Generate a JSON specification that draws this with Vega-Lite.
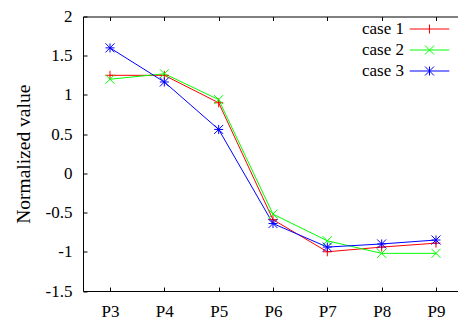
{
  "$schema": "https://vega.github.io/schema/vega-lite/v6.json",
  "width": 375,
  "height": 274.5,
  "autosize": "none",
  "padding": {"left": 83, "top": 16.5, "right": 0, "bottom": 29},
  "background": "white",
  "config": {
    "font": "Liberation Serif",
    "view": {"stroke": null},
    "axis": {
      "domainColor": "black",
      "tickColor": "black",
      "labelColor": "black",
      "titleColor": "black",
      "labelFont": "Liberation Serif",
      "titleFont": "Liberation Serif",
      "labelFontSize": 17,
      "titleFontSize": 19.5,
      "titleFontWeight": "normal",
      "grid": false,
      "tickSize": -4,
      "domainWidth": 1,
      "tickWidth": 1
    },
    "legend": {"labelFont": "Liberation Serif"}
  },
  "data": {
    "values": [
      {"pos": "P3", "case": "case 1", "value": 1.25},
      {"pos": "P4", "case": "case 1", "value": 1.25},
      {"pos": "P5", "case": "case 1", "value": 0.9},
      {"pos": "P6", "case": "case 1", "value": -0.59},
      {"pos": "P7", "case": "case 1", "value": -1.0},
      {"pos": "P8", "case": "case 1", "value": -0.94},
      {"pos": "P9", "case": "case 1", "value": -0.89},
      {"pos": "P3", "case": "case 2", "value": 1.2},
      {"pos": "P4", "case": "case 2", "value": 1.27},
      {"pos": "P5", "case": "case 2", "value": 0.94},
      {"pos": "P6", "case": "case 2", "value": -0.52},
      {"pos": "P7", "case": "case 2", "value": -0.86},
      {"pos": "P8", "case": "case 2", "value": -1.02},
      {"pos": "P9", "case": "case 2", "value": -1.02},
      {"pos": "P3", "case": "case 3", "value": 1.6},
      {"pos": "P4", "case": "case 3", "value": 1.165},
      {"pos": "P5", "case": "case 3", "value": 0.56},
      {"pos": "P6", "case": "case 3", "value": -0.64},
      {"pos": "P7", "case": "case 3", "value": -0.94},
      {"pos": "P8", "case": "case 3", "value": -0.9},
      {"pos": "P9", "case": "case 3", "value": -0.85}
    ]
  },
  "layer": [
    {
      "encoding": {
        "x": {
          "field": "pos", "type": "nominal",
          "scale": {"padding": 0.451, "align": 0.551},
          "axis": {"title": null, "labelAngle": 0, "labelPadding": 16, "orient": "bottom"}
        },
        "y": {
          "field": "value", "type": "quantitative",
          "scale": {"domain": [-1.5, 2], "nice": false, "zero": false},
          "axis": {
            "title": "Normalized value",
            "values": [-1.5, -1, -0.5, 0, 0.5, 1, 1.5, 2],
            "labelExpr": "'' + datum.value",
            "labelPadding": 15,
            "titlePadding": 12
          }
        },
        "color": {
          "field": "case", "type": "nominal",
          "scale": {"domain": ["case 1", "case 2", "case 3"], "range": ["#ff0000", "#00ff00", "#0000ff"]},
          "legend": {
            "title": null,
            "orient": "none",
            "legendX": 338,
            "legendY": 4,
            "padding": 0,
            "labelAlign": "right",
            "labelOffset": -34,
            "labelFontSize": 17,
            "labelColor": "black",
            "labelFont": "Liberation Serif",
            "symbolSize": 81,
            "symbolStrokeWidth": 1,
            "symbolFillColor": "transparent",
            "rowPadding": 3
          }
        }
      },
      "layer": [
        {"mark": {"type": "line", "strokeWidth": 1}},
        {
          "transform": [{"filter": "datum.case === 'case 1'"}],
          "mark": {"type": "point", "filled": false, "strokeWidth": 1, "size": 81, "opacity": 1, "shape": "M-1,0H1M0,-1V1"}
        },
        {
          "transform": [{"filter": "datum.case === 'case 2'"}],
          "mark": {"type": "point", "filled": false, "strokeWidth": 1, "size": 81, "opacity": 1, "shape": "M-1,-1L1,1M-1,1L1,-1"}
        },
        {
          "transform": [{"filter": "datum.case === 'case 3'"}],
          "mark": {"type": "point", "filled": false, "strokeWidth": 1, "size": 81, "opacity": 1, "shape": "M-1,0H1M0,-1V1M-1,-1L1,1M-1,1L1,-1"}
        },
        {
          "mark": {"type": "point", "filled": false, "size": 0},
          "encoding": {
            "shape": {
              "field": "case", "type": "nominal",
              "scale": {
                "domain": ["case 1", "case 2", "case 3"],
                "range": ["M-4.4,0H4.4M0,-1V1", "M-4.4,0H4.4M-1,-1L1,1M-1,1L1,-1", "M-4.4,0H4.4M0,-1V1M-1,-1L1,1M-1,1L1,-1"]
              },
              "legend": {
                "title": null,
                "orient": "none",
                "legendX": 338,
                "legendY": 4,
                "padding": 0,
                "labelAlign": "right",
                "labelOffset": -34,
                "labelFontSize": 17,
                "labelColor": "black",
                "labelFont": "Liberation Serif",
                "symbolSize": 81,
                "symbolStrokeWidth": 1,
                "symbolFillColor": "transparent",
                "rowPadding": 3
              }
            }
          }
        }
      ]
    },
    {
      "mark": {"type": "point", "opacity": 0},
      "encoding": {
        "x": {
          "field": "pos", "type": "nominal",
          "scale": {"padding": 0.451, "align": 0.551},
          "axis": {"title": null, "labels": false, "orient": "top"}
        }
      }
    }
  ],
  "resolve": {"scale": {"x": "independent"}, "axis": {"x": "independent"}}
}
